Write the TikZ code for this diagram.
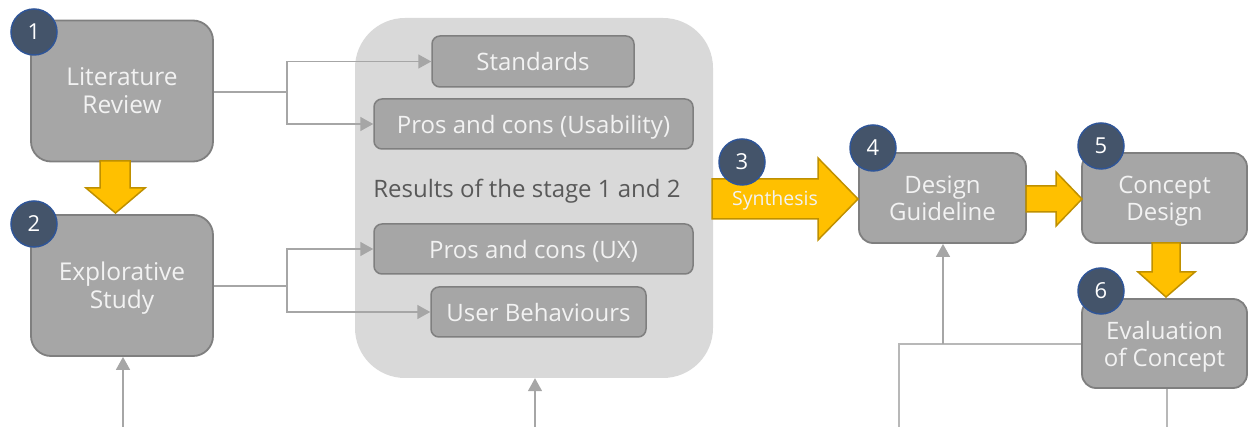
\documentclass[tikz,border=0pt]{standalone}
\usepackage{fontspec}
\setmainfont{Open Sans}
\usetikzlibrary{arrows.meta,calc}
\definecolor{boxfill}{HTML}{A6A6A6}
\definecolor{boxline}{HTML}{7F7F7F}
\definecolor{contfill}{HTML}{D9D9D9}
\definecolor{numfill}{HTML}{44546A}
\definecolor{numline}{HTML}{2F5597}
\definecolor{yel}{HTML}{FFC000}
\definecolor{yelline}{HTML}{BF9000}
\definecolor{conn}{HTML}{A6A6A6}
\definecolor{txtw}{HTML}{F2F2F2}
\definecolor{txtd}{HTML}{595959}
\begin{document}
\begin{tikzpicture}[x=1pt,y=-1pt,
  bigbox/.style={draw=boxline,line width=1.8pt,fill=boxfill,rounded corners=20pt,
    text=txtw,align=center,font=\fontsize{24.5}{28}\selectfont,inner sep=0pt,text depth=0pt},
  midbox/.style={draw=boxline,line width=1.8pt,fill=boxfill,rounded corners=14pt,
    text=txtw,align=center,font=\fontsize{24}{27}\selectfont,inner sep=0pt,text depth=0pt},
  smallbox/.style={draw=boxline,line width=1.5pt,fill=boxfill,rounded corners=8pt,
    text=txtw,align=center,font=\fontsize{24}{27}\selectfont,inner sep=0pt,text depth=0pt},
  num/.style={circle,draw=numline,line width=1.5pt,fill=numfill,text=white,
    minimum size=46pt,inner sep=0pt,font=\fontsize{22}{24}\selectfont},
  yarrow/.style={draw=yelline,line width=1.5pt,fill=yel,line join=miter},
  connline/.style={draw=conn,line width=1.5pt},
  conarrow/.style={draw=conn,line width=1.5pt,-{Triangle[width=14pt,length=13pt]}},
  bline/.style={draw=conn!80,line width=1.5pt}
]
\useasboundingbox (0,0) rectangle (1248,427);

% container
\node[fill=contfill,rounded corners=50pt,minimum width=358pt,minimum height=360pt,inner sep=0pt] (cont) at (534,198) {};
\node[text=txtd,font=\fontsize{24}{27}\selectfont] (res) at (527,191) {Results of the stage 1 and 2};
\node[smallbox,minimum width=202pt,minimum height=51pt] (std) at (533,61.5) {Standards};
\node[smallbox,minimum width=319pt,minimum height=50pt] (pu) at (533.5,124) {Pros and cons (Usability)};
\node[smallbox,minimum width=319pt,minimum height=50pt] (pux) at (533.5,249) {Pros and cons (UX)};
\node[smallbox,minimum width=215pt,minimum height=50pt] (ub) at (538.5,312) {User Behaviours};

% stage boxes
\node[bigbox,minimum width=182pt,minimum height=141pt] (b1) at (122,91) {Literature\\Review};
\node[bigbox,minimum width=182pt,minimum height=141pt] (b2) at (122,285.5) {Explorative\\Study};
\node[midbox,minimum width=167pt,minimum height=90pt] (b4) at (942.5,198) {Design\\Guideline};
\node[midbox,minimum width=165pt,minimum height=90pt] (b5) at (1164.5,198) {Concept\\Design};
\node[midbox,minimum width=165pt,minimum height=89pt] (b6) at (1164.5,343.5) {Evaluation\\of Concept};

% yellow block arrows
\draw[yarrow] (100,161) -- (130,161) -- (130,188) -- (145,188) -- (115.5,213) -- (86,188) -- (100,188) -- cycle;
\draw[yarrow] (712,179) -- (818,179) -- (818,158) -- (858,199) -- (818,240) -- (818,219) -- (712,219) -- cycle;
\draw[yarrow] (1026,186) -- (1056,186) -- (1056,172) -- (1082,199) -- (1056,226) -- (1056,212) -- (1026,212) -- cycle;
\draw[yarrow] (1152,243) -- (1180,243) -- (1180,272) -- (1195,272) -- (1166,297) -- (1138,272) -- (1152,272) -- cycle;
\node[text=txtw,font=\fontsize{19.5}{22}\selectfont] (syn) at (775,200) {Synthesis};

% number circles
\node[num] (n1) at (34,32) {1};
\node[num] (n2) at (34,224) {2};
\node[num] (n3) at (742,162) {3};
\node[num] (n4) at (873,148) {4};
\node[num] (n5) at (1101,146) {5};
\node[num] (n6) at (1101,291) {6};

% connectors stage 1
\coordinate (j1) at (287,92);
\draw[connline] (b1.east |- j1) -- (j1);
\draw[conarrow] (j1) |- (std.west);
\draw[conarrow] (j1) |- (pu.west);
% connectors stage 2
\coordinate (j2) at (287,286);
\draw[connline] (b2.east |- j2) -- (j2);
\draw[conarrow] (j2) |- (pux.west);
\draw[conarrow] (j2) |- (ub.west);

% bottom inputs
\coordinate (in2) at (123,427);
\draw[conarrow] (in2) -- (b2.south -| in2);
\coordinate (inc) at (535,427);
\draw[conarrow] (inc) -- (cont.south -| inc);

% feedback right
\coordinate (fl) at (899,344);
\coordinate (fb) at (899,427);
\coordinate (fu) at (943,344);
\draw[bline] (b6.west |- fl) -- (fl) -- (fb);
\draw[conarrow] (fu) -- (b4.south -| fu);
\coordinate (b6b) at (1167,427);
\draw[bline] (b6.south -| b6b) -- (b6b);
\end{tikzpicture}
\end{document}
